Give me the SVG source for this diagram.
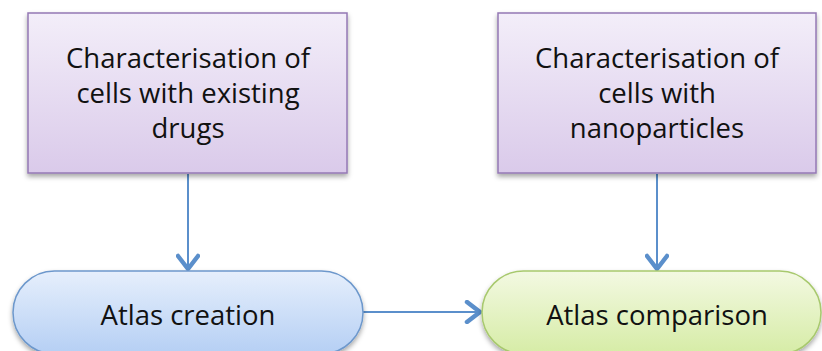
<svg xmlns="http://www.w3.org/2000/svg" width="822" height="351" viewBox="0 0 822 351">
<defs>
<linearGradient id="gPurple" x1="0" y1="0" x2="0" y2="1"><stop offset="0" stop-color="#f3eef9"/><stop offset="1" stop-color="#dacaea"/></linearGradient>
<linearGradient id="gBlue" x1="0" y1="0" x2="0" y2="1"><stop offset="0" stop-color="#e6effc"/><stop offset="1" stop-color="#b5cff4"/></linearGradient>
<linearGradient id="gGreen" x1="0" y1="0" x2="0" y2="1"><stop offset="0" stop-color="#f3f9e2"/><stop offset="1" stop-color="#d6eca6"/></linearGradient>
<filter id="sh" x="-10%" y="-10%" width="120%" height="130%"><feDropShadow dx="0" dy="3" stdDeviation="2.5" flood-color="#000" flood-opacity="0.35"/></filter>
<marker id="arr" viewBox="0 0 24 24" refX="20" refY="12" markerWidth="24" markerHeight="24" markerUnits="userSpaceOnUse" orient="auto">
<path d="M7,2 L20,12 L7,22" fill="none" stroke="#5b8fcb" stroke-width="4.5" stroke-linecap="round" stroke-linejoin="round"/>
</marker>
<style>
.t{font-family:"Open Sans","Liberation Sans",sans-serif;font-size:27.5px;fill:#111;text-anchor:middle}
.c{fill:none;stroke:#5b8fcb;stroke-width:2}
</style>
</defs>
<rect width="822" height="351" fill="#fff"/>
<g id="connectors">
<line class="c" x1="188" y1="174" x2="188" y2="269" marker-end="url(#arr)"/>
<line class="c" x1="657" y1="174" x2="657" y2="269" marker-end="url(#arr)"/>
<line class="c" x1="363" y1="312" x2="480" y2="312" marker-end="url(#arr)"/>
</g>
<g id="node-existing">
<rect x="28" y="13" width="319" height="160" fill="url(#gPurple)" stroke="#9478b4" stroke-width="1.5" filter="url(#sh)"/>
<text class="t" x="188" y="68">Characterisation of</text>
<text class="t" x="188" y="103">cells with existing</text>
<text class="t" x="188" y="138">drugs</text>
</g>
<g id="node-nano">
<rect x="498" y="13" width="318" height="160" fill="url(#gPurple)" stroke="#9478b4" stroke-width="1.5" filter="url(#sh)"/>
<text class="t" x="657" y="68">Characterisation of</text>
<text class="t" x="657" y="103">cells with</text>
<text class="t" x="657" y="138">nanoparticles</text>
</g>
<g id="node-creation">
<rect x="13" y="271" width="350" height="83" rx="41.5" ry="41.5" fill="url(#gBlue)" stroke="#6d98cc" stroke-width="1.5" filter="url(#sh)"/>
<text class="t" x="188" y="325">Atlas creation</text>
</g>
<g id="node-comparison">
<rect x="482" y="271" width="339" height="83" rx="41.5" ry="41.5" fill="url(#gGreen)" stroke="#a8c96e" stroke-width="1.5" filter="url(#sh)"/>
<text class="t" x="657" y="325">Atlas comparison</text>
</g>
</svg>
